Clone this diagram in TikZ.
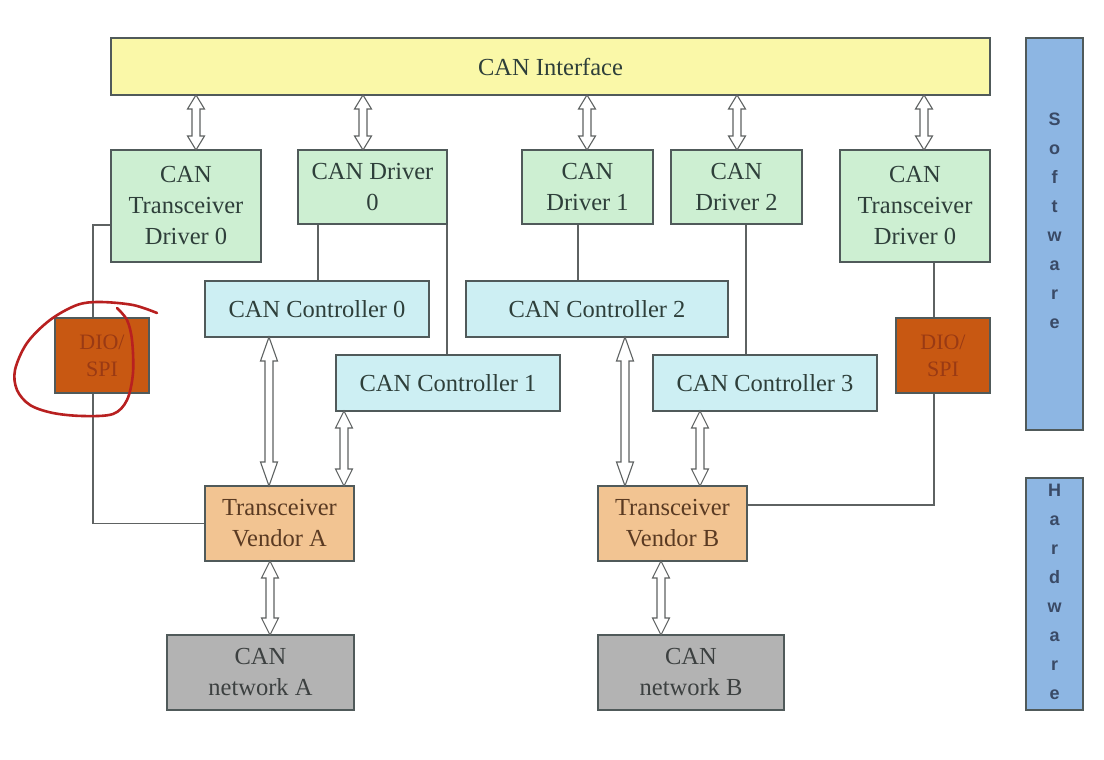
\documentclass[tikz,border=0pt]{standalone}
\usepackage{fontspec}
\setmainfont{Liberation Serif}
\newfontfamily\barfont{Liberation Sans}
\usetikzlibrary{calc,backgrounds}
\definecolor{bordc}{HTML}{505A5A}
\definecolor{txtc}{HTML}{2E3F3A}
\definecolor{wirec}{HTML}{5E6262}
\definecolor{ifacec}{HTML}{FAF8A8}
\definecolor{drvc}{HTML}{CDEFD2}
\definecolor{ctlc}{HTML}{CDEFF3}
\definecolor{dioc}{HTML}{C85812}
\definecolor{diotxt}{HTML}{9A3A14}
\definecolor{tvc}{HTML}{F2C492}
\definecolor{tvtxt}{HTML}{5A3A22}
\definecolor{netc}{HTML}{B3B3B3}
\definecolor{nettxt}{HTML}{3C4040}
\definecolor{barc}{HTML}{8DB6E3}
\definecolor{bartxt}{HTML}{3A4A66}
\definecolor{redmark}{HTML}{B82020}
\pgfdeclarelayer{under}
\pgfsetlayers{under,background,main}
% vertical hollow double arrow: [head length] x, top anchor, bottom anchor
\newcommand\vdarr[4][15]{%
  \draw[darrow] let \p1=(#2,0 |- #3), \p2=(#2,0 |- #4) in
    (\p1) -- ++(8.5pt,-#1pt) -- ++(-4.5pt,0pt) -- (\x1+4pt,\y2+#1pt) -- ++(4.5pt,0pt)
    -- (\p2) -- ++(-8.5pt,#1pt) -- ++(4.5pt,0pt) -- (\x1-4pt,\y1-#1pt) -- ++(-4.5pt,0pt) -- cycle;}
\begin{document}
\begin{tikzpicture}[x=1pt,y=-1pt,
  box/.style={draw=bordc, line width=1.6pt, inner sep=0pt, outer sep=0pt, align=center,
    font=\fontsize{24.5}{31}\selectfont, text=txtc},
  iface/.style={box, fill=ifacec},
  drv/.style={box, fill=drvc},
  ctl/.style={box, fill=ctlc},
  dio/.style={box, fill=dioc, text=diotxt, font=\fontsize{22}{27}\selectfont},
  tv/.style={box, fill=tvc, text=tvtxt},
  net/.style={box, fill=netc, text=nettxt},
  bar/.style={box, fill=barc},
  bartext/.style={inner sep=0pt, align=center, text=bartxt, font=\barfont\bfseries\fontsize{18}{29}\selectfont},
  wire/.style={draw=wirec, line width=1.4pt},
  darrow/.style={draw=wirec, fill=white, line width=1.1pt, line join=miter}
]
\begin{pgfonlayer}{under}
\fill[white] (0,0) rectangle (1104,760);
\end{pgfonlayer}
\useasboundingbox (0,0) rectangle (1104,760);

% software / hardware bars
\node[bar, minimum width=57pt, minimum height=392pt] (sw) at (1054.5,234) {};
\node[bartext] (swt) at (1054.5,221) {S\\o\\f\\t\\w\\a\\r\\e};
\node[bar, minimum width=57pt, minimum height=232pt] (hw) at (1054.5,594) {};
\node[bartext] (hwt) at (1054.5,592) {H\\a\\r\\d\\w\\a\\r\\e};

% top interface
\node[iface, minimum width=879pt, minimum height=57pt] (if) at (550.5,66.5) {CAN Interface};

% drivers
\node[drv, minimum width=150pt, minimum height=112pt] (tdL) at (186,206) {CAN\\Transceiver\\Driver 0};
\node[drv, minimum width=149pt, minimum height=74pt] (d0) at (372.5,187) {CAN Driver\\0};
\node[drv, minimum width=131pt, minimum height=74pt] (d1) at (587.5,187) {CAN\\Driver 1};
\node[drv, minimum width=131pt, minimum height=74pt] (d2) at (736.5,187) {CAN\\Driver 2};
\node[drv, minimum width=150pt, minimum height=112pt] (tdR) at (915,206) {CAN\\Transceiver\\Driver 0};

% controllers
\node[ctl, minimum width=224pt, minimum height=56pt] (c0) at (317,309) {CAN Controller 0};
\node[ctl, minimum width=262pt, minimum height=56pt] (c2) at (597,309) {CAN Controller 2};
\node[ctl, minimum width=224pt, minimum height=56pt] (c1) at (448,383) {CAN Controller 1};
\node[ctl, minimum width=224pt, minimum height=56pt] (c3) at (765,383) {CAN Controller 3};

% DIO/SPI
\node[dio, minimum width=94pt, minimum height=75pt] (dioL) at (102,355.5) {DIO/\\SPI};
\node[dio, minimum width=94pt, minimum height=75pt] (dioR) at (943,355.5) {DIO/\\SPI};

% transceivers
\node[tv, minimum width=149pt, minimum height=75pt] (tvA) at (279.5,523.5) {Transceiver\\Vendor A};
\node[tv, minimum width=149pt, minimum height=75pt] (tvB) at (672.5,523.5) {Transceiver\\Vendor B};

% networks
\node[net, minimum width=187pt, minimum height=75pt] (nA) at (260.5,672.5) {CAN\\network A};
\node[net, minimum width=186pt, minimum height=75pt] (nB) at (691,672.5) {CAN\\network B};

% plain wires (behind boxes)
\begin{pgfonlayer}{background}
\draw[wire] (tdL.west |- 0,225) -- (93,225) |- (tvA.west);
\draw[wire] (934,0 |- tdR.south) |- (tvB.east |- 0,505);
\draw[wire] (318,0 |- d0.south) -- (318,0 |- c0.north);
\draw[wire] (447,0 |- d0.south) -- (447,0 |- c1.north);
\draw[wire] (578,0 |- d1.south) -- (578,0 |- c2.north);
\draw[wire] (746,0 |- d2.south) -- (746,0 |- c3.north);
\end{pgfonlayer}

% double arrows
\vdarr[14]{196}{if.south}{tdL.north}
\vdarr[14]{363}{if.south}{d0.north}
\vdarr[14]{587}{if.south}{d1.north}
\vdarr[14]{737}{if.south}{d2.north}
\vdarr[14]{924}{if.south}{tdR.north}
\vdarr[24]{269}{c0.south}{tvA.north}
\vdarr[17]{344}{c1.south}{tvA.north}
\vdarr[24]{625}{c2.south}{tvB.north}
\vdarr[17]{700}{c3.south}{tvB.north}
\vdarr[17]{270}{tvA.south}{nA.north}
\vdarr[17]{661}{tvB.south}{nB.north}

% red hand-drawn mark
\draw[redmark, line width=2.6pt, line cap=round, line join=round]
  plot[smooth, tension=0.55] coordinates {(157,313) (133,305) (100,302) (77,305) (50,320) (27,343) (15,370) (17,390) (30,405) (53,413) (83,416) (113,414) (127,400) (133,373) (132,340) (127,320) (117,308)};
\end{tikzpicture}
\end{document}
